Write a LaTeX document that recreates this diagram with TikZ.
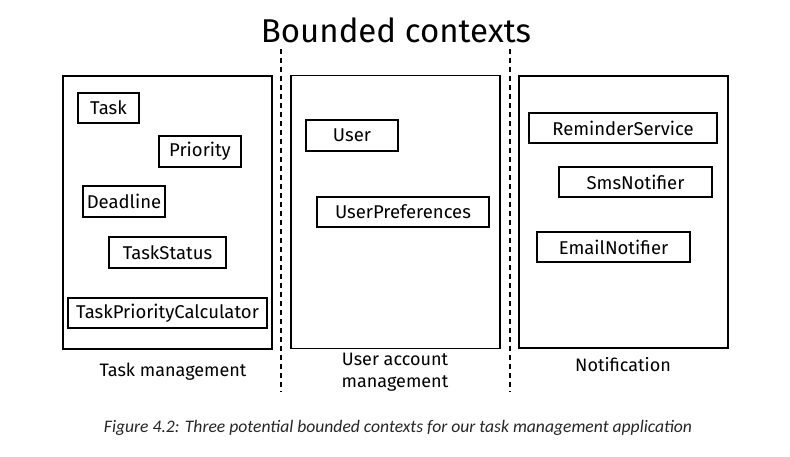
\documentclass[tikz,border=0pt]{standalone}
\usepackage{fontspec}
\setmainfont{Fira Sans}
\newfontfamily\capfont{Carlito}
\begin{document}
\begin{tikzpicture}[x=1pt,y=-1pt,
  ctx/.style={draw, line width=1.4pt, inner sep=0pt},
  item/.style={draw, line width=1.3pt, inner sep=0pt, font=\fontsize{18.5}{20}\selectfont},
  lbl/.style={font=\fontsize{18}{22}\selectfont, align=center},
  divider/.style={line width=2pt, dash pattern=on 5pt off 4pt}]
\useasboundingbox (0,0) rectangle (790,457);
\node[font=\fontsize{33}{36}\selectfont] (title) at (396,30) {Bounded contexts};
% dividers
\coordinate (d1t) at (281,49); \coordinate (d1b) at (281,392);
\coordinate (d2t) at (510,49); \coordinate (d2b) at (510,392);
\draw[divider] (d1t) -- (d1b);
\draw[divider] (d2t) -- (d2b);
% context boxes
\node[ctx, minimum width=209pt, minimum height=273pt] (tm) at (167.5,212.5) {};
\node[ctx, minimum width=209pt, minimum height=273pt] (ua) at (395.5,212) {};
\node[ctx, minimum width=209pt, minimum height=272pt] (nt) at (623.5,212) {};
% task management
\node[item, minimum width=61pt, minimum height=30pt] (task) at (108.5,108) {Task};
\node[item, minimum width=82pt, minimum height=31pt] (prio) at (200,151.5) {Priority};
\node[item, minimum width=82pt, minimum height=31pt] (dead) at (124,201.5) {Deadline};
\node[item, minimum width=117pt, minimum height=31pt] (stat) at (167.5,252.5) {TaskStatus};
\node[item, minimum width=199pt, minimum height=30pt] (calc) at (167.5,313) {TaskPriorityCalculator};
% user account
\node[item, minimum width=92pt, minimum height=31pt] (user) at (352,135.5) {User};
\node[item, minimum width=172pt, minimum height=30pt] (pref) at (403,212) {UserPreferences};
% notification
\node[item, minimum width=188pt, minimum height=30pt] (rem) at (623,128) {ReminderService};
\node[item, minimum width=153pt, minimum height=30pt] (sms) at (635.5,182) {SmsNotifier};
\node[item, minimum width=153pt, minimum height=30pt] (mail) at (613.5,247) {EmailNotifier};
% labels
\node[lbl] (tml) at (173,372) {Task management};
\node[lbl] (ual) at (395,372) {User account\\management};
\node[lbl] (ntl) at (623,365) {Notification};
% caption
\node[font=\capfont\itshape\fontsize{17.6}{20}\selectfont, text=black!85] (cap) at (398,428) {Figure 4.2: Three potential bounded contexts for our task management application};
\end{tikzpicture}
\end{document}
